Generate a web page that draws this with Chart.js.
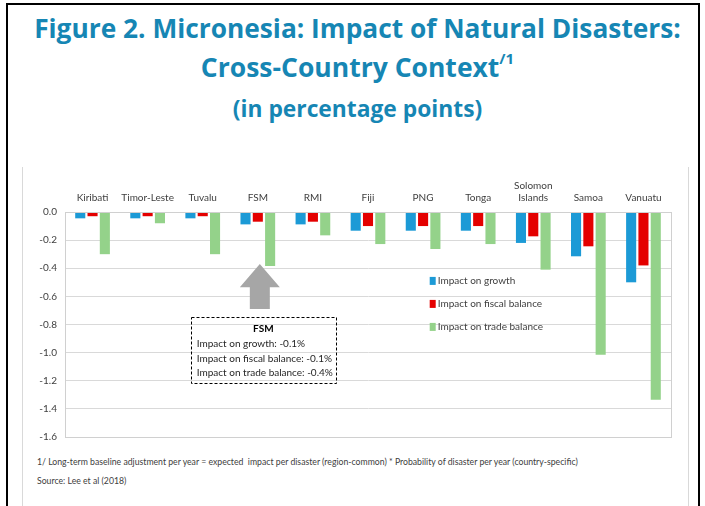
<!DOCTYPE html>
<html><head><meta charset="utf-8">
<script src="https://cdn.jsdelivr.net/npm/chart.js@4/dist/chart.umd.min.js"></script>
<style>
html,body{margin:0;padding:0;background:#fff;}
body{width:705px;height:506px;position:relative;overflow:hidden;font-family:Lato,"Open Sans",sans-serif;}
#frame{position:absolute;left:6px;top:3px;width:694px;height:520px;border:2px solid #000;box-sizing:border-box;}
#inner{position:absolute;left:22px;top:167px;width:667px;height:400px;border:1px solid #d9d9d9;border-top:none;box-sizing:border-box;}
.t{position:absolute;left:0;width:715px;text-align:center;color:#1686b4;font-weight:bold;white-space:nowrap;font-family:"Open Sans",Lato,sans-serif;}
#t1{top:10px;font-size:26.3px;}
#t2{top:49px;font-size:26.5px;}
#t2 sup{font-size:15px;vertical-align:top;position:relative;top:-1px;}
#t3{top:93px;font-size:22.8px;}
.fn{position:absolute;left:37px;color:#404040;font-size:8.7px;white-space:nowrap;}
#c{position:absolute;left:0;top:0;}
</style></head>
<body>
<div id="frame"></div>
<div id="inner"></div>
<div class="t" id="t1">Figure 2. Micronesia: Impact of Natural Disasters:</div>
<div class="t" id="t2">Cross-Country Context<sup>/1</sup></div>
<div class="t" id="t3">(in percentage points)</div>
<div class="fn" style="top:456px">1/ Long-term baseline adjustment per year = expected&nbsp; impact per disaster (region-common) * Probability of disaster per year (country-specific)</div>
<div class="fn" style="top:475px">Source: Lee et al (2018)</div>
<canvas id="c" width="705" height="506"></canvas>
<script>
const categories = ["Kiribati","Timor-Leste","Tuvalu","FSM","RMI","Fiji","PNG","Tonga",["Solomon","Islands"],"Samoa","Vanuatu"];
const growth = [-0.045,-0.045,-0.045,-0.088,-0.088,-0.133,-0.133,-0.133,-0.22,-0.315,-0.50];
const fiscal = [-0.03,-0.03,-0.03,-0.069,-0.069,-0.10,-0.10,-0.10,-0.173,-0.244,-0.38];
const trade = [-0.30,-0.08,-0.30,-0.384,-0.166,-0.228,-0.263,-0.228,-0.41,-1.015,-1.335];
const seriesNames = ["Impact on growth","Impact on fiscal balance","Impact on trade balance"];
const yTicks = [0,-0.2,-0.4,-0.6,-0.8,-1.0,-1.2,-1.4,-1.6];
const calloutTitle = "FSM";
const calloutLines = ["Impact on growth: -0.1%","Impact on fiscal balance: -0.1%","Impact on trade balance: -0.4%"];

const FONT = "Lato, 'Open Sans', sans-serif";
const TXT = "#404040";

const overlay = {
  id:"overlay",
  afterDraw(chart){
    const ctx = chart.ctx, a = chart.chartArea, xs = chart.scales.x, ys = chart.scales.y;
    ctx.save();
    ctx.strokeStyle = "#d0d0d0"; ctx.lineWidth = 1;
    ctx.strokeRect(Math.round(a.left)+0.5, Math.round(a.top)+0.5, Math.round(a.right-a.left), Math.round(a.bottom-a.top));
    const ds = chart.data.datasets;
    const lx = xs.getPixelForValue(6.12), ly0 = ys.getPixelForValue(-0.49);
    ctx.font = "10px " + FONT; ctx.textBaseline = "middle"; ctx.textAlign = "left";
    ds.forEach((d,i)=>{
      const y = ly0 + i*23;
      ctx.fillStyle = d.backgroundColor; ctx.fillRect(lx, y-4, 6, 8);
      ctx.fillStyle = TXT; ctx.fillText(d.label, lx+8, y);
    });
    const cx = xs.getPixelForValue(3) + 2;
    const yA = ys.getPixelForValue(-0.37), yH = ys.getPixelForValue(-0.535), yB = ys.getPixelForValue(-0.69);
    ctx.fillStyle = "#a6a6a6";
    ctx.beginPath();
    ctx.moveTo(cx, yA); ctx.lineTo(cx+20, yH); ctx.lineTo(cx+10, yH); ctx.lineTo(cx+10, yB);
    ctx.lineTo(cx-10, yB); ctx.lineTo(cx-10, yH); ctx.lineTo(cx-20, yH); ctx.closePath(); ctx.fill();
    const bx = cx - 69, bw = 145, by = ys.getPixelForValue(-0.748), bh = 66;
    ctx.strokeStyle = "#000"; ctx.setLineDash([3,2]); ctx.lineWidth = 1;
    ctx.strokeRect(Math.round(bx)+0.5, Math.round(by)+0.5, bw, bh);
    ctx.setLineDash([]);
    ctx.fillStyle = "#000"; ctx.textAlign = "center"; ctx.font = "bold 10px " + FONT;
    ctx.fillText(calloutTitle, bx + bw/2, by + 12);
    ctx.textAlign = "left"; ctx.font = "10px " + FONT; ctx.fillStyle = "#262626";
    calloutLines.forEach((s,i)=> ctx.fillText(s, bx + 6, by + 27 + i*14.5));
    ctx.restore();
  }
};

new Chart(document.getElementById("c"), {
  type: "bar",
  data: {
    labels: categories,
    datasets: [
      {label: seriesNames[0], data: growth, backgroundColor: "#1c9ad6"},
      {label: seriesNames[1], data: fiscal, backgroundColor: "#e40000"},
      {label: seriesNames[2], data: trade, backgroundColor: "#94d28a"}
    ]
  },
  options: {
    responsive: false, animation: false,
    devicePixelRatio: 1,
    layout: {padding: {left: 25, right: 34, top: 176, bottom: 69}},
    categoryPercentage: 0.67, barPercentage: 0.82,
    plugins: {legend: {display: false}, tooltip: {enabled: false}, title: {display: false}},
    scales: {
      x: {
        position: "top",
        grid: {display: false, drawTicks: false},
        border: {display: false},
        ticks: {color: TXT, font: {family: FONT, size: 10}, padding: 8, maxRotation: 0, autoSkip: false},
        afterFit(s){ s.height = 36; }
      },
      y: {
        min: -1.6, max: 0,
        afterBuildTicks(s){ s.ticks = yTicks.map(v=>({value:v})); },
        grid: {color: "#d9d9d9", drawTicks: false},
        border: {display: true, color: "#c8c8c8"},
        ticks: {color: TXT, font: {family: FONT, size: 10}, padding: 8, callback: v => Number(v).toFixed(1)},
        afterFit(s){ s.width = 40; }
      }
    }
  },
  plugins: [overlay]
});
</script>
</body></html>
